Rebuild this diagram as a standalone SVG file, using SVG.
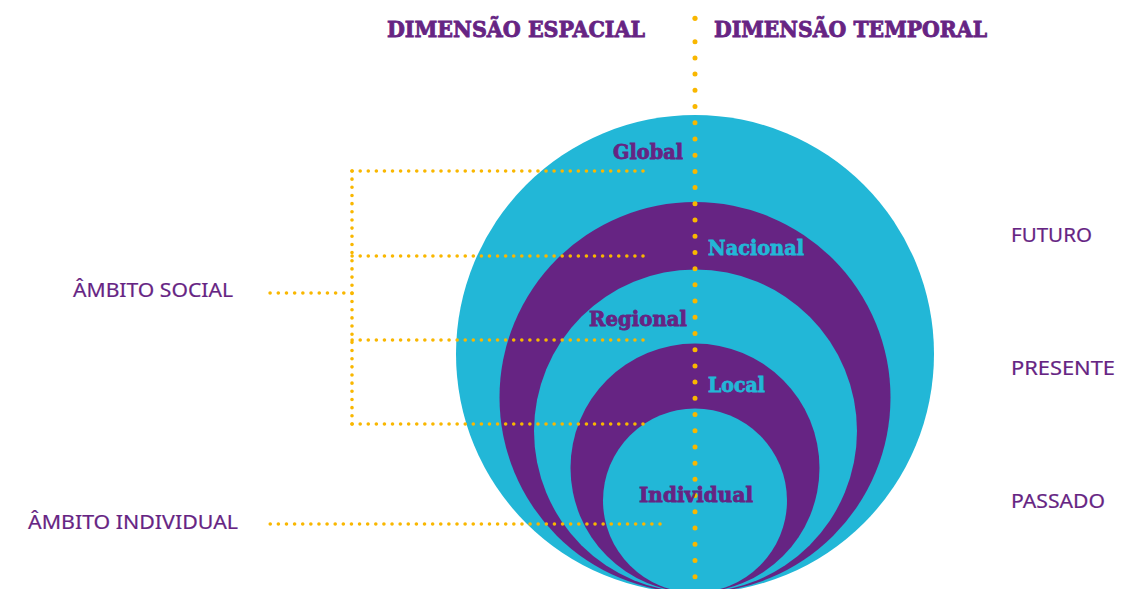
<svg xmlns="http://www.w3.org/2000/svg" width="1145" height="589" viewBox="0 0 1145 589">
<style>
.cyan{fill:#22B7D7}
.purple{fill:#662483}
.dot{fill:none;stroke:#F9B700;stroke-linecap:round;stroke-width:3.6}
.cdot{fill:none;stroke:#F9B700;stroke-linecap:round;stroke-width:5}
.title{font-family:"DejaVu Serif",serif;font-weight:bold;font-size:23px;fill:#662483;stroke:#662483;stroke-width:0.9}
.ring{font-family:"DejaVu Serif",serif;font-weight:bold;font-size:20px;stroke-width:0.8}
.lbl{font-family:"Noto Sans","Open Sans",sans-serif;font-size:20px;fill:#662483;stroke:#662483;stroke-width:0.2}
</style>
<rect width="1145" height="589" fill="#ffffff"/>
<g id="circles">
<g id="global"><circle class="cyan" cx="695" cy="354" r="239"/></g>
<g id="nacional"><circle class="purple" cx="695" cy="397.5" r="195.5"/></g>
<g id="regional"><circle class="cyan" cx="695.5" cy="431" r="161.5"/></g>
<g id="local"><circle class="purple" cx="695" cy="468" r="124.5"/></g>
<g id="individual"><circle class="cyan" cx="695" cy="500.5" r="92"/></g>
</g>
<g id="connectors">
<path class="dot" d="M643 171 H352" stroke-dasharray="0 8.08"/>
<path class="dot" d="M643 256 H352" stroke-dasharray="0 8.08"/>
<path class="dot" d="M643 340 H352" stroke-dasharray="0 8.08"/>
<path class="dot" d="M643 424 H352" stroke-dasharray="0 8.08"/>
<path class="dot" d="M352 171 V424" stroke-dasharray="0 8.16"/>
<path class="dot" d="M352 293 H270" stroke-dasharray="0 8.19"/>
<path class="dot" d="M660 524 H270" stroke-dasharray="0 8.12"/>
<circle cx="695" cy="18.3" r="2.6" fill="#F9B700"/>
<path class="cdot" d="M695 41.7 V577" stroke-dasharray="0 16.21"/>
</g>
<g id="titles">
<text class="title" x="387" y="37" textLength="258" lengthAdjust="spacingAndGlyphs">DIMENSÃO ESPACIAL</text>
<text class="title" x="714" y="37" textLength="273" lengthAdjust="spacingAndGlyphs">DIMENSÃO TEMPORAL</text>
</g>
<g id="ring-labels">
<text class="ring" x="613" y="158.5" fill="#662483" stroke="#662483" textLength="70" lengthAdjust="spacingAndGlyphs">Global</text>
<text class="ring" x="708" y="254.5" fill="#22B7D7" stroke="#22B7D7" textLength="96" lengthAdjust="spacingAndGlyphs">Nacional</text>
<text class="ring" x="589" y="326" fill="#662483" stroke="#662483" textLength="98" lengthAdjust="spacingAndGlyphs">Regional</text>
<text class="ring" x="708" y="392" fill="#22B7D7" stroke="#22B7D7" textLength="57" lengthAdjust="spacingAndGlyphs">Local</text>
<text class="ring" x="639" y="502" fill="#662483" stroke="#662483" textLength="114" lengthAdjust="spacingAndGlyphs">Individual</text>
</g>
<g id="side-labels">
<text class="lbl" x="73" y="297" textLength="160" lengthAdjust="spacingAndGlyphs">ÂMBITO SOCIAL</text>
<text class="lbl" x="28" y="529" textLength="210" lengthAdjust="spacingAndGlyphs">ÂMBITO INDIVIDUAL</text>
<text class="lbl" x="1011" y="241.5" textLength="81" lengthAdjust="spacingAndGlyphs">FUTURO</text>
<text class="lbl" x="1011" y="374.5" textLength="104" lengthAdjust="spacingAndGlyphs">PRESENTE</text>
<text class="lbl" x="1011" y="507.5" textLength="94" lengthAdjust="spacingAndGlyphs">PASSADO</text>
</g>
</svg>
